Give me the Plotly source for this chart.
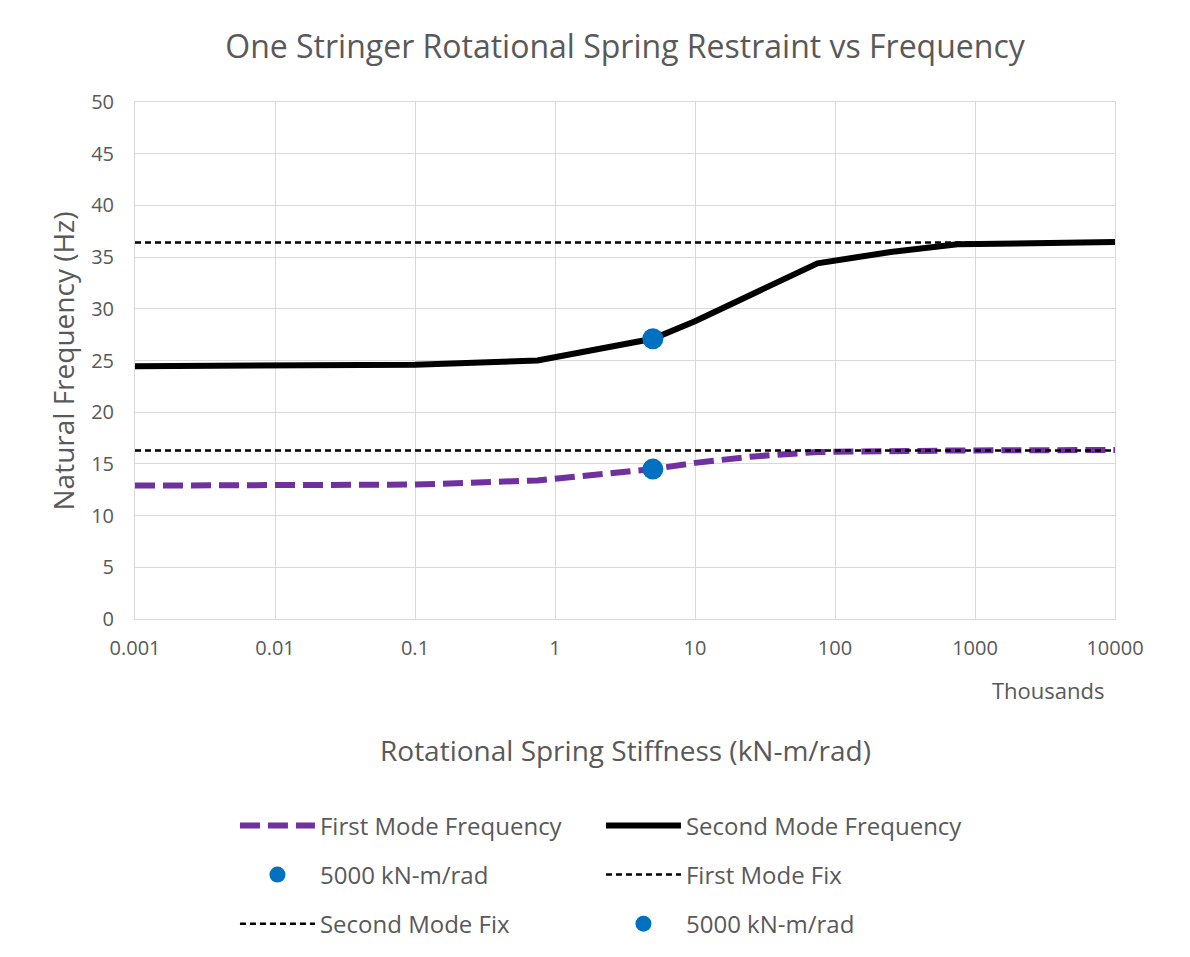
import plotly.graph_objects as go

stiffness = [0.001, 0.01, 0.1, 0.75, 5, 10, 25, 75, 250, 750, 10000]
first_mode = [12.9, 12.9, 13.0, 13.4, 14.5, 15.1, 15.7, 16.15, 16.25, 16.3, 16.35]
second_mode = [24.45, 24.5, 24.6, 25.0, 27.1, 28.8, 31.4, 34.4, 35.5, 36.25, 36.45]
fix_x = [0.001, 10000]
first_fix = [16.3, 16.3]
second_fix = [36.4, 36.4]
marker_x = [5]
marker_first = [14.5]
marker_second = [27.1]
x_ticks = [0.001, 0.01, 0.1, 1, 10, 100, 1000, 10000]
x_tick_text = ["0.001", "0.01", "0.1", "1", "10", "100", "1000", "10000"]
y_ticks = list(range(0, 55, 5))

FONT = "Open Sans"
GREY = "#595959"

fig = go.Figure()
fig.add_trace(go.Scatter(x=stiffness, y=first_mode, mode="lines", name="First Mode Frequency",
                         legend="legend",
                         line=dict(color="#7030A0", width=6, dash="20px,8px")))
fig.add_trace(go.Scatter(x=stiffness, y=second_mode, mode="lines", name="Second Mode Frequency",
                         legend="legend",
                         line=dict(color="#000000", width=6)))
fig.add_trace(go.Scatter(x=marker_x, y=marker_second, mode="markers", name="5000 kN-m/rad",
                         legend="legend2",
                         marker=dict(color="#0070C0", size=21)))
fig.add_trace(go.Scatter(x=fix_x, y=first_fix, mode="lines", name="First Mode Fix",
                         legend="legend2",
                         line=dict(color="#000000", width=2.5, dash="6px,4px")))
fig.add_trace(go.Scatter(x=fix_x, y=second_fix, mode="lines", name="Second Mode Fix",
                         legend="legend3",
                         line=dict(color="#000000", width=2.5, dash="6px,4px")))
fig.add_trace(go.Scatter(x=marker_x, y=marker_first, mode="markers", name="5000 kN-m/rad",
                         legend="legend3",
                         marker=dict(color="#0070C0", size=21)))

def leg(y):
    return dict(orientation="h", x=0.102, xanchor="left", y=y, yanchor="middle",
                entrywidth=276, entrywidthmode="pixels", itemwidth=75,
                font=dict(size=24, color=GREY, family=FONT),
                bgcolor="rgba(0,0,0,0)", borderwidth=0)

fig.update_layout(
    width=1190, height=957,
    paper_bgcolor="white", plot_bgcolor="white",
    margin=dict(l=127, r=83, t=94, b=346),
    font=dict(family=FONT, color=GREY, size=20),
    title=dict(text="One Stringer Rotational Spring Restraint vs Frequency",
               x=0.5185, xanchor="center", y=0.959, yanchor="middle",
               font=dict(size=32, color=GREY, family=FONT)),
    xaxis=dict(type="log", range=[-3, 4], tickvals=x_ticks, ticktext=x_tick_text,
               showgrid=True, gridcolor="#D9D9D9", gridwidth=1,
               showline=True, linecolor="#D9D9D9", linewidth=1, mirror=True,
               ticks="", ticklabelstandoff=11, tickfont=dict(size=20, color=GREY)),
    yaxis=dict(range=[0, 50], tickvals=y_ticks, showgrid=True, gridcolor="#D9D9D9",
               showline=True, linecolor="#D9D9D9", linewidth=1, mirror=True,
               zeroline=False, ticks="", ticklabelstandoff=16,
               tickfont=dict(size=20, color=GREY)),
    legend=leg(-0.4004),
    legend2=leg(-0.4952),
    legend3=leg(-0.5900),
    showlegend=True,
)
fig.add_annotation(text="Thousands", xref="paper", yref="paper", x=0.932, y=-0.137,
                   xanchor="center", yanchor="middle", showarrow=False,
                   font=dict(size=22, color=GREY))
fig.add_annotation(text="Rotational Spring Stiffness (kN-m/rad)", xref="paper", yref="paper",
                   x=0.5, y=-0.2534, xanchor="center", yanchor="middle", showarrow=False,
                   font=dict(size=28, color=GREY))
fig.add_annotation(text="Natural Frequency (Hz)", xref="paper", yref="paper",
                   x=-0.0735, y=0.5, xanchor="center", yanchor="middle", showarrow=False,
                   textangle=-90, font=dict(size=28, color=GREY))

fig.write_html("out.html")
